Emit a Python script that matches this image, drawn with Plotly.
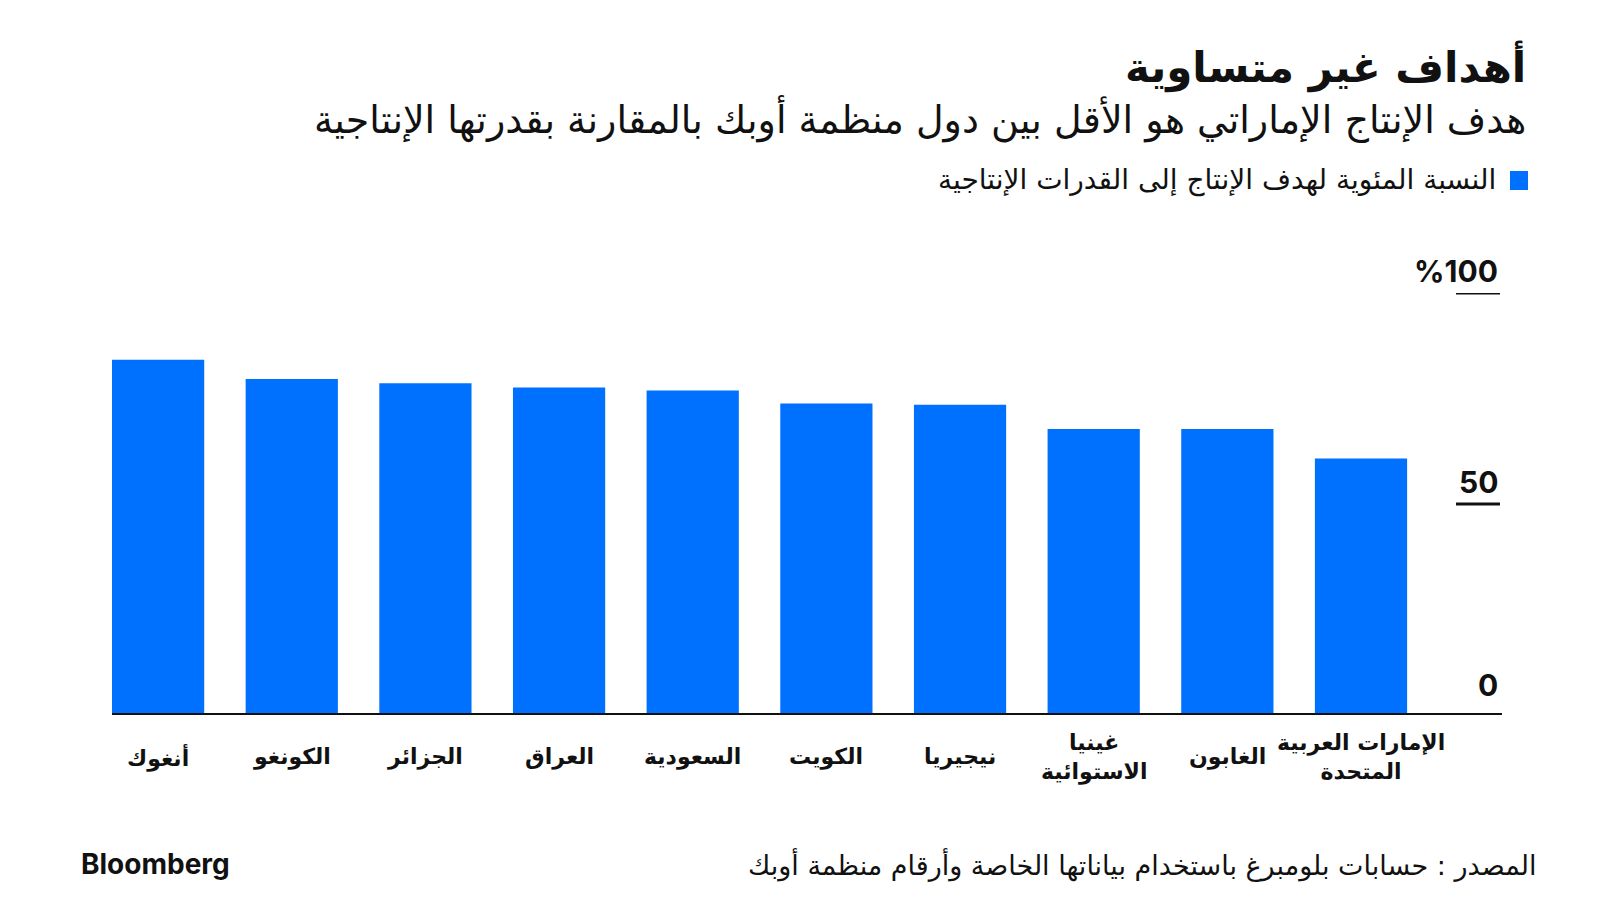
import plotly.graph_objects as go

# data (percent of capacity)
countries = [
    "أنغوك", "الكونغو", "الجزائر", "العراق", "السعودية",
    "الكويت", "نيجيريا", "غينيا<br>الاستوائية", "الغابون",
    "الإمارات العربية<br>المتحدة",
]
target_pct = [84.2, 79.6, 78.6, 77.6, 76.9, 73.8, 73.5, 67.8, 67.8, 60.8]

y_ticks = [0, 50, 100]
y_tick_text = ["0", "50", "%100"]

BLUE = "#0070ff"
AR_FONT = "DejaVu Sans"
NUM_FONT = "Inter"

# page body has an 8px margin, so the figure is drawn a bit smaller
OFF = 8
W, H = 1600 - OFF, 900 - OFF
L, R, T, B = 112 - OFF, 100, 293 - OFF, 185
plot_w = W - L - R
plot_h = H - T - B


def px_x(px):
    # px is a page coordinate
    return (px - OFF - L) / plot_w


def px_y(py):
    return (H - B - (py - OFF)) / plot_h


fig = go.Figure(go.Bar(
    x=list(range(len(countries))),
    y=target_pct,
    marker=dict(color=BLUE, line=dict(width=0)),
    width=0.69,
    hoverinfo="y",
))

fig.update_layout(
    width=W, height=H,
    margin=dict(l=L, r=R, t=T, b=B),
    paper_bgcolor="white", plot_bgcolor="white",
    showlegend=False,
    xaxis=dict(range=[-0.345, 10.04], showticklabels=False, showgrid=False,
               zeroline=False, showline=False, fixedrange=True),
    yaxis=dict(range=[0, 100], showticklabels=False, showgrid=False,
               zeroline=False, showline=False, fixedrange=True),
)

ann = []
# category labels under the bars
for i, c in enumerate(countries):
    ann.append(dict(x=i, y=px_y(757), xref="x", yref="paper", text=f"<b>{c}</b>",
                    showarrow=False, xanchor="center", yanchor="middle",
                    font=dict(family=AR_FONT, size=22, color="#111")))

# y tick labels on the right, with short underlines
for v, t in zip(y_ticks, y_tick_text):
    ann.append(dict(x=1.0, y=v, xref="paper", yref="y", text=f"<b>{t}</b>",
                    showarrow=False, xanchor="right", yanchor="bottom",
                    yshift=10 if v == 0 else 2,
                    font=dict(family=NUM_FONT, size=30, color="#111")))
    if v:
        fig.add_shape(type="line", xref="paper", yref="y",
                      x0=px_x(1456), x1=1.0, y0=v, y1=v,
                      line=dict(color="#111", width=3))

# baseline
fig.add_shape(type="line", xref="paper", yref="y", x0=0, x1=px_x(1502), y0=0, y1=0,
              line=dict(color="#111", width=4), layer="above")

# title block
ann.append(dict(x=px_x(1528), y=px_y(66), xref="paper", yref="paper",
                text="<b>أهداف غير متساوية</b>", showarrow=False,
                xanchor="right", yanchor="middle",
                font=dict(family=AR_FONT, size=42, color="#111")))
ann.append(dict(x=px_x(1528), y=px_y(119), xref="paper", yref="paper",
                text="هدف الإنتاج الإماراتي هو الأقل بين دول منظمة أوبك بالمقارنة بقدرتها الإنتاجية",
                showarrow=False, xanchor="right", yanchor="middle",
                font=dict(family=AR_FONT, size=38, color="#111")))

# legend (RTL: swatch on the right)
fig.add_shape(type="rect", xref="paper", yref="paper",
              x0=px_x(1510), x1=px_x(1528), y0=px_y(190), y1=px_y(171),
              fillcolor=BLUE, line=dict(width=0))
ann.append(dict(x=px_x(1498), y=px_y(180), xref="paper", yref="paper",
                text="النسبة المئوية لهدف الإنتاج إلى القدرات الإنتاجية",
                showarrow=False, xanchor="right", yanchor="middle",
                font=dict(family=AR_FONT, size=28, color="#111")))

# footer
ann.append(dict(x=px_x(1539), y=px_y(864), xref="paper", yref="paper",
                text="المصدر : حسابات بلومبرغ باستخدام بياناتها الخاصة وأرقام منظمة أوبك",
                showarrow=False, xanchor="right", yanchor="middle",
                font=dict(family=AR_FONT, size=27, color="#111")))
ann.append(dict(x=px_x(79), y=px_y(864), xref="paper", yref="paper",
                text="<b>Bloomberg</b>", showarrow=False,
                xanchor="left", yanchor="middle",
                font=dict(family=NUM_FONT, size=28, color="#111")))

fig.update_layout(annotations=ann)
fig.write_html("out.html")
